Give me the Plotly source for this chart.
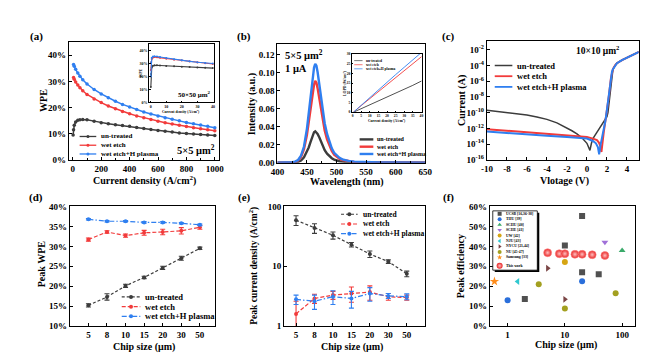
import math
import plotly.graph_objects as go

W, H = 668, 361
FONT = "Liberation Serif"
GRAY = "#3c3c3c"
RED = "#f23b3b"
BLUE = "#2f7ff0"

names = ["un-treated", "wet etch", "wet etch+H plasma"]

# ---------------- (a) main: WPE vs current density (5x5 um2) ----------------
a_j_gray = [2, 5, 10, 20, 35, 50, 70, 100, 150, 200, 250, 300, 350, 400, 450, 500,
            550, 600, 650, 700, 750, 800, 850, 900, 950, 1000]
a_wpe_gray = [9.5, 11.5, 13.2, 14.5, 15.1, 15.3, 15.4, 15.3, 14.8, 14.2, 13.8, 13.4, 13.1,
              12.8, 12.4, 12.0, 11.6, 11.2, 10.9, 10.6, 10.3, 10.1, 9.9, 9.7, 9.5, 9.3]
a_j = [5, 10, 20, 35, 50, 70, 100, 150, 200, 250, 300, 350, 400, 450, 500, 550, 600,
       650, 700, 750, 800, 850, 900, 950, 1000]
a_wpe_red = [31.5, 30.8, 29.8, 28.6, 27.6, 26.4, 25.0, 23.3, 21.9, 20.6, 19.5, 18.5, 17.6,
             16.8, 16.1, 15.4, 14.8, 14.2, 13.7, 13.2, 12.7, 12.3, 11.9, 11.5, 11.1]
a_wpe_blue = [36.5, 35.8, 34.6, 33.2, 32.0, 30.6, 29.0, 26.9, 25.2, 23.7, 22.4, 21.2, 20.2,
              19.2, 18.3, 17.5, 16.8, 16.1, 15.5, 14.9, 14.3, 13.8, 13.3, 12.8, 12.3]

# (a) inset: 50x50 um2
ai_j = [0.1, 0.3, 0.7, 1.5, 2.5, 4, 6, 10, 15, 20, 25, 30, 35, 40]
ai_gray = [12.0, 22.0, 27.0, 28.3, 28.6, 28.6, 28.5, 28.2, 27.9, 27.6, 27.3, 27.0, 26.8, 26.5]
ai_red = [25.0, 31.0, 33.5, 34.6, 35.0, 34.8, 34.5, 33.8, 33.0, 32.3, 31.6, 30.9, 30.2, 29.6]
ai_blue = [20.0, 31.0, 34.5, 35.4, 35.6, 35.4, 35.0, 34.2, 33.3, 32.5, 31.7, 31.0, 30.5, 30.0]

# ---------------- (b) EL spectra ----------------
b_wl = [400, 410, 420, 425, 430, 435, 440, 445, 450, 453, 456, 459, 462, 464, 466, 468,
        471, 474, 477, 480, 484, 488, 492, 496, 500, 505, 510, 520, 530, 550, 575, 600, 625, 650]
b_blue = [0, 0, 0.0002, 0.0005, 0.0012, 0.003, 0.008, 0.018, 0.038, 0.055, 0.074, 0.092,
          0.106, 0.110, 0.108, 0.101, 0.087, 0.071, 0.056, 0.044, 0.032, 0.023, 0.016, 0.011,
          0.008, 0.0055, 0.0038, 0.002, 0.0012, 0.0006, 0.0003, 0.0002, 0.0001, 0.0001]
b_red = [0, 0, 0.0002, 0.0004, 0.001, 0.0025, 0.0065, 0.015, 0.031, 0.045, 0.061, 0.076,
         0.087, 0.091, 0.089, 0.083, 0.072, 0.059, 0.046, 0.036, 0.026, 0.019, 0.013, 0.009,
         0.0065, 0.0045, 0.003, 0.0017, 0.001, 0.0005, 0.0002, 0.0001, 0.0001, 0.0001]
b_gray = [0, 0, 0.0001, 0.0002, 0.0004, 0.001, 0.0025, 0.006, 0.012, 0.017, 0.023, 0.029,
          0.034, 0.035, 0.034, 0.032, 0.028, 0.023, 0.018, 0.014, 0.010, 0.0073, 0.005,
          0.0035, 0.0025, 0.0017, 0.0012, 0.0007, 0.0004, 0.0002, 0.0001, 0.0001, 0, 0]

# (b) inset: LOPD vs current density
bi_j = [0.5, 1, 2, 5, 10, 15, 20, 25, 30, 35, 40]
bi_gray = [0, 0.2, 0.5, 1.5, 3.5, 5.5, 7.5, 9.5, 11.6, 13.8, 16.0]
bi_red = [0, 0.3, 1.2, 3.4, 7.0, 10.6, 14.2, 17.8, 21.4, 25.0, 28.5]
bi_blue = [0, 0.4, 1.3, 3.7, 7.7, 11.6, 15.5, 19.3, 23.1, 26.9, 30.7]

# ---------------- (c) I-V (10x10 um2), log10 of current ----------------
c_v_gray = [-10, -9, -8, -7, -6, -5, -4, -3, -2, -1.5, -1, -0.5, 0, 0.15, 0.3, 0.45, 0.6,
            0.8, 1.0, 1.2, 1.4, 1.6, 1.8, 2.0, 2.1, 2.2, 2.3, 2.4, 2.5, 2.6, 2.8, 3.0, 3.5,
            4.0, 4.5, 5.0, 5.2]
c_log_gray = [-9.7, -9.85, -10.0, -10.15, -10.3, -10.55, -10.85, -11.3, -11.9, -12.3, -12.7,
              -13.2, -13.9, -14.3, -14.8, -13.9, -13.3, -12.9, -12.5, -12.1, -11.7, -11.3,
              -10.9, -10.5, -10.0, -8.9, -7.6, -6.3, -5.2, -4.5, -4.0, -3.7, -3.3, -3.0,
              -2.65, -2.35, -2.25]
c_v_red = [-10, -8, -6, -4, -2, 0, 0.6, 1.0, 1.2, 1.35, 1.45, 1.55, 1.7, 1.85, 2.0, 2.2,
           2.4, 2.5, 2.6, 2.8, 3.0, 3.5, 4.0, 4.5, 5.0, 5.2]
c_log_red = [-12.1, -12.3, -12.5, -12.7, -12.9, -13.1, -13.3, -13.5, -13.8, -14.3, -15.0,
             -13.6, -12.3, -11.0, -9.8, -7.8, -5.6, -4.8, -4.45, -4.0, -3.7, -3.3, -3.0,
             -2.65, -2.35, -2.25]
c_v_blue = [-10, -8, -6, -4, -2, 0, 0.6, 0.9, 1.1, 1.22, 1.35, 1.5, 1.7, 1.85, 2.0, 2.2,
            2.4, 2.5, 2.6, 2.8, 3.0, 3.5, 4.0, 4.5, 5.0, 5.2]
c_log_blue = [-12.4, -12.6, -12.8, -12.95, -13.1, -13.3, -13.6, -13.9, -14.4, -15.3, -14.2,
              -13.3, -12.2, -11.0, -9.6, -7.6, -5.5, -4.8, -4.45, -4.0, -3.7, -3.3, -3.0,
              -2.65, -2.35, -2.25]

# ---------------- (d) Peak WPE vs chip size ----------------
sizes = ["5", "8", "10", "15", "20", "30", "50"]
d_gray = [15.2, 17.3, 20.1, 22.2, 24.6, 27.0, 29.5]
d_gray_err = [0.4, 0.8, 0.4, 0.3, 0.4, 0.5, 0.3]
d_red = [31.7, 33.6, 32.7, 33.4, 33.6, 33.9, 34.8]
d_red_err = [0.4, 0.3, 0.4, 0.6, 0.7, 0.8, 0.5]
d_blue = [36.8, 36.3, 36.3, 36.0, 36.0, 35.8, 35.4]
d_blue_err = [0.2, 0.2, 0.2, 0.2, 0.2, 0.2, 0.2]

# ---------------- (e) Peak current density vs chip size ----------------
e_gray = [59, 43.5, 33, 23, 16, 12, 7.5]
e_gray_err = [11, 8, 4.5, 2, 2, 0.8, 0.8]
e_red = [1.6, 2.9, 3.3, 3.5, 3.7, 3.1, 3.0]
e_red_err = [1.0, 0.5, 0.5, 1.0, 1.0, 0.4, 0.3]
e_blue = [2.8, 2.6, 3.1, 2.9, 3.5, 3.2, 3.1]
e_blue_err = [0.5, 0.7, 0.8, 0.9, 0.9, 0.3, 0.35]

# ---------------- (f) Literature comparison ----------------
f_labels = ["UCSB [16,36-38]", "THU [39]", "SCHU [40]", "SCHE [41]", "UW [42]", "NJU [43]",
            "NYCU [21,44]", "NU [45-47]", "Samsung [33]"]
f_x = [[2, 10, 20, 20, 39], [1, 20], [100], [50], [10], [1.5], [5, 10], [3.5, 10, 77], [0.59]]
f_y = [[13.6, 40.4, 55.2, 27.0, 26.0], [13.0, 22.5], [37.9], [42.0], [32.2], [22.4],
       [29.0, 13.4], [21.0, 8.8, 16.5], [22.4]]
f_symbols = ["square", "circle", "triangle-up", "triangle-down", "circle", "triangle-left",
             "triangle-right", "circle", "star"]
f_colors = ["#505050", "#2a6fdb", "#3aaa6a", "#a070d8", "#d6a514", "#30c8d0", "#7a4545",
            "#a3a020", "#ff8c1a"]
tw_sizes = [5, 8, 10, 15, 20, 30, 50]
tw_label = "This work"

# ============================================================================
fig = go.Figure()
annotations = []
shapes = []


def dom(l, r, t, b):
    return [l / W, r / W], [1 - b / H, 1 - t / H]


def tf(size):
    return dict(family=FONT, size=size, color="black", weight="bold")


def ax(size=9, lw=1.2, tl=3, **kw):
    d = dict(showline=True, linecolor="black", linewidth=lw, mirror=True, ticks="inside",
             ticklen=tl, tickwidth=1, tickcolor="black", showgrid=False, zeroline=False,
             tickfont=tf(size))
    d.update(kw)
    return d


def txt(x, y, s, size, xanchor="center", angle=0):
    annotations.append(dict(x=x, y=y, xref="x9", yref="y9", text=s, showarrow=False,
                            xanchor=xanchor, yanchor="middle", textangle=angle,
                            font=tf(size)))


def line_tr(x, y, xa, ya, color, width=1.5, dash="solid", mode="lines", msize=3,
            symbol="circle", err=None):
    t = dict(x=x, y=y, mode=mode, xaxis=xa, yaxis=ya, showlegend=False,
             line=dict(color=color, width=width, dash=dash),
             marker=dict(color=color, size=msize, symbol=symbol))
    if err is not None:
        t["error_y"] = dict(type="data", array=err, visible=True, color=color,
                            thickness=1.1, width=2.5)
    fig.add_trace(go.Scatter(**t))


def legend_block(x0, y0, dy, length, fs, items, gap=3):
    for i, (lab, col, dash, wdt, sym, msz) in enumerate(items):
        y = y0 + i * dy
        fig.add_trace(go.Scatter(x=[x0, x0 + length], y=[y, y], mode="lines",
                                 line=dict(color=col, dash=dash, width=wdt),
                                 xaxis="x9", yaxis="y9", showlegend=False))
        if sym:
            fig.add_trace(go.Scatter(x=[x0 + length / 2], y=[y], mode="markers",
                                     marker=dict(color=col, size=msz, symbol=sym),
                                     xaxis="x9", yaxis="y9", showlegend=False))
        txt(x0 + length + gap, y, lab, fs, xanchor="left")


cols3 = [GRAY, RED, BLUE]

# ---- (a) main
for xs, ys, c in [(a_j_gray, a_wpe_gray, GRAY), (a_j, a_wpe_red, RED), (a_j, a_wpe_blue, BLUE)]:
    line_tr(xs, ys, "x", "y", c, width=1.5, mode="lines+markers", msize=3.5)
# ---- (a) inset
for ys, c in [(ai_gray, GRAY), (ai_red, RED), (ai_blue, BLUE)]:
    line_tr(ai_j, ys, "x2", "y2", c, width=1.1, mode="lines+markers", msize=2)
# ---- (b) main
for ys, c in [(b_gray, GRAY), (b_red, RED), (b_blue, BLUE)]:
    line_tr(b_wl, ys, "x3", "y3", c, width=2.4)
# ---- (b) inset
for ys, c in [(bi_gray, GRAY), (bi_red, RED), (bi_blue, BLUE)]:
    line_tr(bi_j, ys, "x4", "y4", c, width=0.9)
# ---- (c)
for xs, ls, c, w in [(c_v_gray, c_log_gray, GRAY, 1.5), (c_v_red, c_log_red, RED, 2.0),
                     (c_v_blue, c_log_blue, BLUE, 2.0)]:
    line_tr(xs, [10 ** v for v in ls], "x5", "y5", c, width=w)
# ---- (d)
idx = list(range(len(sizes)))
dashes = ["3px,2px", "4px,2px", "5px,2px,1.5px,2px"]
for ys, es, c, ds in [(d_gray, d_gray_err, GRAY, dashes[0]), (d_red, d_red_err, RED, dashes[1]),
                      (d_blue, d_blue_err, BLUE, dashes[2])]:
    line_tr(idx, ys, "x6", "y6", c, width=1.2, dash=ds, mode="lines+markers", msize=4, err=es)
# ---- (e)
for ys, es, c, ds in [(e_gray, e_gray_err, GRAY, dashes[0]), (e_red, e_red_err, RED, dashes[1]),
                      (e_blue, e_blue_err, BLUE, dashes[2])]:
    line_tr(idx, ys, "x7", "y7", c, width=1.2, dash=ds, mode="lines+markers", msize=4, err=es)
# ---- (f)
lx = [math.log10(s) for s in tw_sizes]
shapes.append(dict(type="circle", xref="x8", yref="y8", layer="below",
                   x0=min(lx) - 0.15, x1=max(lx) + 0.16,
                   y0=min(d_blue) - 1.4, y1=max(d_blue) + 2.9,
                   line=dict(color="#ee3030", width=1, dash="3px,2px"),
                   fillcolor="rgba(255,120,120,0.35)"))
for xs, ys, sym, c in zip(f_x, f_y, f_symbols, f_colors):
    fig.add_trace(go.Scatter(x=xs, y=ys, mode="markers", xaxis="x8", yaxis="y8",
                             showlegend=False,
                             marker=dict(symbol=sym, size=6 if sym != "star" else 7, color=c)))
fig.add_trace(go.Scatter(x=tw_sizes, y=d_blue, mode="markers", xaxis="x8", yaxis="y8",
                         showlegend=False,
                         marker=dict(symbol="circle", size=8, color="#e82020",
                                     gradient=dict(type="radial", color="#ffc0c0"),
                                     line=dict(color="#ff9090", width=0.6))))

# ---------------- legends (drawn on pixel overlay) ----------------
legend_block(66, 127, 9, 17, 7, [(names[i], cols3[i], "solid", 1.3, "circle", 3) for i in range(3)])
legend_block(352, 130, 7.5, 14, 6, [(names[i], cols3[i], "solid", 2.4, None, 0) for i in range(3)], gap=2)
legend_block(346.5, 49, 4.2, 8.5, 3.6, [(names[i], cols3[i], "solid", 0.7, None, 0) for i in range(3)], gap=1.5)
legend_block(490, 54, 11, 18, 8.5, [(names[i], cols3[i], "solid", 1.8 if i else 1.5, None, 0) for i in range(3)])
legend_block(109, 292, 10, 19, 8.5, [(names[i], cols3[i], dashes[i], 1.2, "circle", 4) for i in range(3)])
legend_block(333, 207, 10, 17, 7.5, [(names[i], cols3[i], dashes[i], 1.2, "circle", 4) for i in range(3)])

# (f) legend box with shadow
shapes.append(dict(type="rect", xref="x9", yref="y9", x0=490, x1=535.5, y0=205.5, y1=266.5,
                   fillcolor="black", line=dict(width=0), layer="below"))
shapes.append(dict(type="rect", xref="x9", yref="y9", x0=488, x1=533.5, y0=203.5, y1=264.5,
                   fillcolor="white", line=dict(color="black", width=0.8), layer="below"))
for i, (lab, sym, c) in enumerate(zip(f_labels, f_symbols, f_colors)):
    y = 206.5 + i * 5.6
    fig.add_trace(go.Scatter(x=[495], y=[y], mode="markers", xaxis="x9", yaxis="y9",
                             showlegend=False, marker=dict(symbol=sym, size=4, color=c)))
    txt(499, y, lab, 3.8, xanchor="left")
fig.add_trace(go.Scatter(x=[495], y=[260], mode="markers", xaxis="x9", yaxis="y9",
                         showlegend=False,
                         marker=dict(symbol="circle", size=6, color="#e82020",
                                     gradient=dict(type="radial", color="#ffc0c0"))))
txt(499, 260, tw_label, 3.8, xanchor="left")

# ---------------- texts ----------------
for lab, x, y in [("(a)", 22, 24), ("(b)", 234, 24), ("(c)", 443, 24),
                  ("(d)", 21, 190), ("(e)", 234, 190), ("(f)", 443, 190)]:
    txt(x, y, lab, 11)

txt(185, 140, "5×5 μm<sup>2</sup>", 10.5)
txt(183, 84, "50×50 μm<sup>2</sup>", 7)
txt(274, 43, "5×5 μm<sup>2</sup>", 10.5, xanchor="left")
txt(274, 57, "1 μA", 10.5, xanchor="left")
txt(595, 38, "10×10 μm<sup>2</sup>", 9.5)

# axis titles
txt(132, 172, "Current density (A/cm<sup>2</sup>)", 10)
txt(29, 90, "WPE", 10, angle=-90)
txt(170, 101.5, "Current density (A/cm<sup>2</sup>)", 3.6)
txt(129, 62, "WPE", 3.8, angle=-90)
txt(339, 174, "Wavelength (nm)", 10)
txt(242, 93, "Intensity (a.u.)", 10, angle=-90)
txt(380, 110.5, "Current density (A/cm<sup>2</sup>)", 3.6)
txt(336, 72, "LOPD (W/cm<sup>2</sup>)", 3.8, angle=-90)
txt(561, 173, "Vlotage (V)", 10)
txt(456, 90, "Current (A)", 10, angle=-90)
txt(132, 343, "Chip size (μm)", 10)
txt(27, 258, "Peak WPE", 10, angle=-90)
txt(344, 343, "Chip size (μm)", 10)
txt(244, 260, "Peak current density (A/cm<sup>2</sup>)", 9.5, angle=-90)
txt(563, 341, "Chip size (μm)", 10)
txt(455, 260, "Peak efficiency", 10, angle=-90)

# ---------------- axes ----------------
xa, ya = dom(55, 208, 30, 151)
xai, yai = dom(137, 203, 32, 92)
xb, yb = dom(268, 419, 32, 154)
xbi, ybi = dom(344, 416, 42, 102)
xc, yc = dom(482, 637, 29, 151)
xd, yd = dom(56, 204, 199, 322)
xe, ye = dom(275, 419, 199, 322)
xf, yf = dom(485, 633, 199, 322)

pct = lambda vals: [f"{v}%" for v in vals]
c_exp = [-16, -14, -12, -10, -8, -6, -4, -2]

fig.update_layout(
    width=W, height=H, margin=dict(l=0, r=0, t=0, b=0),
    paper_bgcolor="white", plot_bgcolor="rgba(0,0,0,0)",
    font=dict(family=FONT, color="black"),
    xaxis=ax(domain=xa, anchor="y", range=[-28, 1027], tickvals=[0, 200, 400, 600, 800, 1000],
             minor=dict(ticks="inside", ticklen=1.5, dtick=100)),
    yaxis=ax(domain=ya, anchor="x", range=[0, 45], tickvals=[0, 10, 20, 30, 40],
             ticktext=pct([0, 10, 20, 30, 40])),
    xaxis2=ax(size=4.0, lw=0.8, tl=1.5, domain=xai, anchor="y2", range=[-1, 40.5],
              tickvals=[0, 10, 20, 30, 40]),
    yaxis2=ax(size=4.0, lw=0.8, tl=1.5, domain=yai, anchor="x2", range=[0, 45],
              tickvals=[0, 10, 20, 30, 40], ticktext=pct([0, 10, 20, 30, 40])),
    xaxis3=ax(domain=xb, anchor="y3", range=[400, 650], tickvals=[400, 450, 500, 550, 600, 650],
              minor=dict(ticks="inside", ticklen=1.5, dtick=25)),
    yaxis3=ax(domain=yb, anchor="x3", range=[0, 0.132],
              tickvals=[0, 0.02, 0.04, 0.06, 0.08, 0.10, 0.12], tickformat=".2f"),
    xaxis4=ax(size=3.6, lw=0.7, tl=1.2, domain=xbi, anchor="y4", range=[-0.5, 40.5],
              tickvals=[0, 5, 10, 15, 20, 25, 30, 35, 40]),
    yaxis4=ax(size=3.6, lw=0.7, tl=1.2, domain=ybi, anchor="x4", range=[0, 30],
              tickvals=[0, 5, 10, 15, 20, 25, 30]),
    xaxis5=ax(domain=xc, anchor="y5", range=[-10, 5.17], tickvals=[-10, -8, -6, -4, -2, 0, 2, 4],
              ticktext=["-10", "-8", "-6", "-4", "-2", "0", "2", "4"]),
    yaxis5=ax(domain=yc, anchor="x5", type="log", range=[-16, -0.9],
              tickvals=[10 ** e for e in c_exp],
              ticktext=[f"10<sup>{e}</sup>" for e in c_exp]),
    xaxis6=ax(domain=xd, anchor="y6", range=[-1, 6.8], tickvals=idx, ticktext=sizes),
    yaxis6=ax(domain=yd, anchor="x6", range=[10, 40], tickvals=[10, 15, 20, 25, 30, 35, 40],
              ticktext=pct([10, 15, 20, 25, 30, 35, 40])),
    xaxis7=ax(domain=xe, anchor="y7", range=[-0.64, 7.0], tickvals=idx, ticktext=sizes),
    yaxis7=ax(domain=ye, anchor="x7", type="log", range=[0, 2], tickvals=[1, 10, 100],
              ticktext=["1", "10", "100"]),
    xaxis8=ax(domain=xf, anchor="y8", type="log", range=[-0.31, 2.22], tickvals=[1, 10, 100],
              ticktext=["1", "10", "100"]),
    yaxis8=ax(domain=yf, anchor="x8", range=[0, 60], tickvals=[0, 10, 20, 30, 40, 50, 60],
              ticktext=pct([0, 10, 20, 30, 40, 50, 60])),
    xaxis9=dict(domain=[0, 1], anchor="y9", range=[0, W], visible=False, fixedrange=True),
    yaxis9=dict(domain=[0, 1], anchor="x9", range=[H, 0], visible=False, fixedrange=True),
    annotations=annotations, shapes=shapes, showlegend=False,
)

fig.write_html("out.html")
